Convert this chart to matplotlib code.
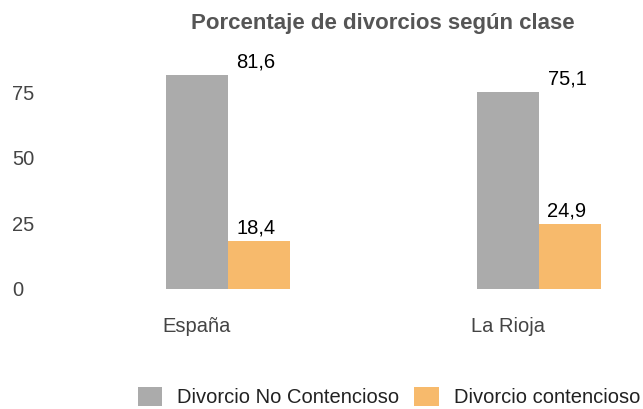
import numpy as np
import matplotlib
matplotlib.use("Agg")
import matplotlib.pyplot as plt
from matplotlib.patches import Patch

plt.rcParams['font.family'] = ['Liberation Sans', 'DejaVu Sans']

regiones = ["España", "La Rioja"]
no_contencioso = [81.6, 75.1]
contencioso = [18.4, 24.9]
etiquetas_no = ["81,6", "75,1"]
etiquetas_si = ["18,4", "24,9"]
serie_nombres = ["Divorcio No Contencioso", "Divorcio contencioso"]

gris = "#ABABAB"
naranja = "#F7BA6C"

W, H = 643, 409
fig = plt.figure(figsize=(W / 100, H / 100), dpi=100)

# axes placed in pixel terms: x=0 at px 228, one category = 311 px
ax_left, ax_right = 40, 643
ax_bottom, ax_top = 120, 369
ax = fig.add_axes([ax_left / W, ax_bottom / H, (ax_right - ax_left) / W,
                   (ax_top - ax_bottom) / H])
px_unit = 311.0
ax.set_xlim((ax_left - 228) / px_unit, (ax_right - 228) / px_unit)
ax.set_ylim(0, (ax_top - ax_bottom) / (197 / 75))

x = np.arange(len(regiones))
w = 0.2
ax.bar(x - w / 2, no_contencioso, w, color=gris, edgecolor="none")
ax.bar(x + w / 2, contencioso, w, color=naranja, edgecolor="none")

fs = 14.5
for i in range(len(regiones)):
    ax.annotate(etiquetas_no[i], (x[i] + 0.09, no_contencioso[i]),
                xytext=(0, 9), textcoords="offset points",
                ha="center", va="center", fontsize=fs, color="black")
    ax.annotate(etiquetas_si[i], (x[i] + 0.09, contencioso[i]),
                xytext=(0, 9), textcoords="offset points",
                ha="center", va="center", fontsize=fs, color="black")

for s in ax.spines.values():
    s.set_visible(False)

ax.set_yticks([0, 25, 50, 75])
ax.set_yticklabels(["0", "25", "50", "75"])
ax.tick_params(axis="y", length=0, pad=20, labelsize=fs, labelcolor="#444444")
for t in ax.get_yticklabels():
    t.set_horizontalalignment("left")

ax.set_xticks(x - w / 2)
ax.set_xticklabels(regiones)
ax.tick_params(axis="x", length=0, pad=20, labelsize=fs, labelcolor="#444444")

fig.text(383 / W, 1 - 24 / H, "Porcentaje de divorcios según clase",
         ha="center", va="center", fontsize=16, fontweight="bold",
         color="#555555")

handles = [Patch(facecolor=gris, edgecolor="none"),
           Patch(facecolor=naranja, edgecolor="none")]
fig.legend(handles, serie_nombres, loc="center",
           bbox_to_anchor=(389 / W, 12 / H), ncol=2, frameon=False,
           fontsize=fs, handlelength=1.2, handleheight=1.1,
           handletextpad=0.75, columnspacing=0.75, borderpad=0,
           labelcolor="#222222")

fig.savefig("out.png", dpi=100)
